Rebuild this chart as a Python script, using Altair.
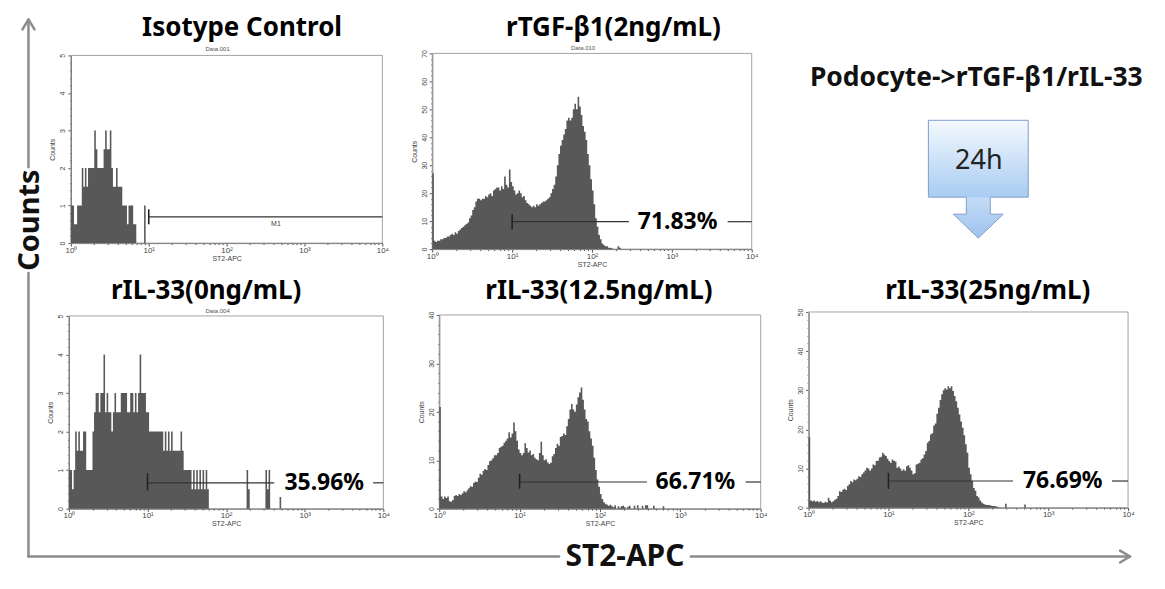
import altair as alt
import pandas as pd

# ---------------- values ----------------
BIN_STEP = 0.02  # width of one histogram channel in decades of ST2-APC, first channel at 10^0

ISO_COUNTS = [1, 1, 0.5, 0.5, 1, 1, 1, 2, 1.5, 2,
              1.5, 2, 2, 2, 2, 3, 2.5, 2, 2, 2,
              2, 2.5, 3, 2.5, 2.5, 3, 2, 1.5, 1.5, 2,
              1.5, 1.5, 1.5, 1, 1, 1, 0.5, 1, 1, 1,
              0.5, 0.5, 0, 0, 0, 0, 0, 1]

TGF_COUNTS = [27, 3, 2.5, 3, 3, 3.5, 3.5, 4, 4, 4.5,
              4.5, 5, 5.5, 5, 6, 5.5, 6.5, 7, 7.5, 8,
              8.5, 9, 9.5, 11, 12, 14, 15, 17, 18, 18,
              17.5, 18, 18, 19, 18.5, 19.5, 20, 19, 21, 21.5,
              22, 22, 21, 22.5, 21.5, 26, 23, 22, 28.5, 24,
              22.5, 21, 19.5, 20, 21, 20, 18.5, 19, 17.5, 16.5,
              16, 15.5, 15, 15.5, 15, 16, 15.5, 16, 16.5, 17,
              17, 17.5, 18, 18.5, 20, 21.5, 23, 26, 30, 34,
              37, 39, 41, 43, 46, 47, 46, 47, 50, 52,
              50, 54.5, 51, 48, 44, 42, 39, 34, 30, 25,
              21, 16, 11, 8, 5, 3.5, 2, 1.5, 1, 1,
              0.5, 0.5, 0.3, 0, 0, 0, 1, 0.5]

IL0_COUNTS = [1, 1, 0.5, 1, 2, 1.5, 2, 1.5, 1.5, 2,
              2, 1, 1, 1, 1, 2, 2.5, 3, 3, 2.5,
              3, 3, 4, 2.5, 3, 2.5, 2.5, 2, 2.5, 3,
              2.5, 2.5, 2.5, 3, 3, 3, 3, 2.5, 2.5, 3,
              3, 2.5, 3, 2.5, 3, 4, 3, 3, 3, 2.5,
              2.5, 2, 2, 2, 2, 2, 2, 2, 2, 2,
              1.5, 2, 1.5, 2, 1.5, 2, 1.5, 1.5, 1.5, 1.5,
              1.5, 2, 1.5, 1, 1, 1, 1, 1, 0.5, 1,
              0.5, 1, 0.5, 1, 0.5, 1, 0.5, 1, 0.5, 0,
              0, 0, 0, 0, 0, 0, 0, 0, 0, 0,
              0, 0, 0, 0, 0, 0, 0, 0, 0, 0,
              0, 0, 0, 1, 0.5, 0, 0, 0, 0, 0,
              0, 0, 0, 0, 0, 1, 0.5, 1, 0, 0,
              0, 0, 0, 0, 0.3]

IL125_COUNTS = [21, 2.5, 2, 2.5, 2.2, 2.5, 1.5, 1.4, 1.8, 2.6,
                2.8, 2.6, 3, 2.8, 3.2, 3.6, 3.4, 3.8, 4.2, 4.6,
                4.5, 5.3, 5.6, 5.5, 6.4, 7.2, 7, 7.8, 8.2, 8,
                9, 9.8, 10, 10.4, 11, 11, 11.5, 12.5, 12.8, 13,
                13.6, 14, 14.5, 15.8, 14.7, 15.5, 17.8, 16, 14, 12.2,
                11.5, 11, 11.5, 13.5, 12.5, 11.6, 12, 11, 11.3, 10.5,
                10.2, 10, 11.5, 13.8, 11, 10, 10.2, 9.6, 9.2, 9.5,
                10.8, 11.3, 12.5, 13.4, 13, 14.8, 15, 15.5, 15.2, 17,
                18.5, 20.5, 21.6, 20.5, 20, 21.5, 23, 24, 25, 22.5,
                20.5, 18.5, 18, 16, 14.5, 13, 10.5, 8, 6, 4.5,
                3, 2, 1.3, 1, 0.8, 0.6, 0.8, 0.5, 0.3, 0.7,
                0, 0.5, 0.2, 0.5, 0.6, 0.3, 0, 0.4, 0.6, 0,
                0, 0.6, 0, 0.7, 0, 0, 0.6, 0, 0.7, 0.7,
                0, 0, 0, 0.6, 0, 0, 0, 0, 0, 0.5]

IL25_COUNTS = [18, 1.8, 1.6, 1.8, 1.5, 1.7, 1.4, 1.6, 1.3, 1.2,
               1.5, 1.3, 2.5, 1.8, 1.4, 1.6, 2, 2.3, 3, 4.2,
               4, 4.6, 4.8, 4.5, 5.5, 6, 6.8, 6.5, 7.2, 7,
               7.4, 8, 7.8, 8.5, 9, 9.5, 10.2, 10, 9.4, 10,
               11, 10.8, 11.9, 12, 12.8, 13, 14, 13.5, 13.2, 12.5,
               11.9, 11.5, 12.3, 12, 11.8, 10.2, 10.5, 10, 9.4, 9.8,
               9.4, 10.6, 10.8, 10.2, 9.5, 8.5, 8.8, 11, 11.2, 11.5,
               12.3, 12.6, 13.6, 14.5, 16.6, 17, 18.7, 19, 21, 21.5,
               24, 25.5, 27.5, 29, 30, 30.5, 30.2, 31, 30.5, 31,
               29.8, 28.5, 27.2, 25.5, 23.8, 22, 20.4, 18.5, 16.2, 14,
               10.2, 8.5, 6.8, 5, 4.3, 3, 2.6, 1.8, 1.3, 1,
               0.8, 0.7, 0.7, 0.6, 0.5, 0.4, 0.4, 0.3, 0.2, 0,
               0, 0, 0, 1, 0, 0, 0, 0, 0, 0,
               0, 0, 0, 0, 0, 0.8]

COUNTS = [ISO_COUNTS, TGF_COUNTS, IL0_COUNTS, IL125_COUNTS, IL25_COUNTS]
PANEL_TITLES = ["Isotype Control", "rTGF-β1(2ng/mL)", "rIL-33(0ng/mL)",
                "rIL-33(12.5ng/mL)", "rIL-33(25ng/mL)"]
FILE_LABELS = ["Data.001", "Data.010", "Data.004", "", ""]
Y_MAX = [5, 70, 5, 40, 50]
Y_MAJOR = [1, 10, 1, 10, 10]
Y_MINOR = [0.2, 2, 0.2, 2, 2]
GATE_LABELS = ["M1", "71.83%", "35.96%", "66.71%", "76.69%"]
GATE_LEVEL = [0.7, 9.8, 0.67, 5.5, 6.8]
GATE_TICK_LOW = [0.5, 7.0, 0.47, 4.1, 4.8]
GATE_TICK_HIGH = [0.9, 12.5, 0.92, 7.2, 8.9]
GATE_START = 10
GATE_END = 10000
GATE_LABEL_X = [430, 1180, 1770, 1540, 1520]
GATE_LABEL_Y = [0.5, 9.8, 0.67, 5.5, 6.8]
GATE_GAP_FROM = [None, 290, 410, 385, 363]
GATE_GAP_TO = [None, 5000, 7400, 6500, 6300]
X_TICKS = [m * 10 ** k for k in range(4) for m in range(1, 10)] + [10000]

SIDE_Y_TITLE = "Counts"
SIDE_X_TITLE = "ST2-APC"
SCHEME_TITLE = "Podocyte->rTGF-β1/rIL-33"
SCHEME_TIME = "24h"

# ---------------- layout (page pixels) ----------------
COL_LEFT = [67, 431, 809]
ROW_TOP = [52, 311]
CW = [316, 330, 320]
RH = [196, 198]
SP_COL = COL_LEFT[1] - COL_LEFT[0] - CW[0]
SP_ROW = ROW_TOP[1] - ROW_TOP[0] - RH[0]
CELL = [(0, 0), (0, 1), (1, 0), (1, 1), (1, 2)]          # (row, col) of each histogram panel
PLOT_RECT = [(70, 54, 312, 188), (432, 52, 320, 196), (68, 315, 315, 193),
             (439, 314, 322, 194), (809, 311, 320, 196)]   # page x, y, width, height
TITLE_POS = [(241.5, 34.5), (613.5, 35), (205.5, 298), (599, 298), (988.5, 298)]
FILE_POS = [(217, 51), (583, 50), (217, 313)]

HIST_COLOR = "#585858"
AXIS_FONT = "Liberation Sans"
MAIN_FONT = "Noto Sans"

DECADE_TEST = "abs(log(datum.value)/LN10 - round(log(datum.value)/LN10)) < 0.001"
X_LABEL_EXPR = ("datum.value == 1 ? '10⁰' : datum.value == 10 ? '10¹' : "
                "datum.value == 100 ? '10²' : datum.value == 1000 ? '10³' : "
                "datum.value == 10000 ? '10⁴' : ''")


def x_axis(offset):
    return alt.Axis(values=X_TICKS, labelExpr=X_LABEL_EXPR, labelOverlap=False, labelFlush=False,
                    tickSize={"condition": {"test": DECADE_TEST, "value": 3}, "value": 1.5},
                    labelFontSize=8, labelFont=AXIS_FONT, labelColor="#444", labelPadding=0,
                    title="ST2-APC", titleFontSize=7, titleFont=AXIS_FONT, titleFontWeight="normal",
                    titleColor="#444", titlePadding=0, domainColor="#555", tickColor="#555",
                    grid=False, offset=offset)


def y_axis(k, offset):
    M = Y_MAJOR[k]
    n = int(round(Y_MAX[k] / Y_MINOR[k]))
    vals = [round(j * Y_MINOR[k], 2) for j in range(n + 1)]
    return alt.Axis(values=vals, labelOverlap=False,
                    labelExpr=f"datum.value % {M} == 0 ? format(datum.value, 'd') : ''",
                    tickSize={"condition": {"test": f"datum.value % {M} == 0", "value": 3}, "value": 1.5},
                    labelAngle=270, labelFontSize=7, labelFont=AXIS_FONT, labelColor="#444",
                    labelPadding=2, title="Counts", titleFontSize=7, titleFont=AXIS_FONT,
                    titleFontWeight="normal", titleColor="#444", titlePadding=3,
                    domainColor="#555", tickColor="#555", grid=False, offset=offset)


def one(text):
    return pd.DataFrame({"t": [text]})


def make_panel(k):
    r, c = CELL[k]
    ox, oy = COL_LEFT[c], ROW_TOP[r]
    px, py, pw, ph = PLOT_RECT[k]
    dx, dy = px - ox, py - oy
    counts = COUNTS[k]
    n = len(counts)
    hist = pd.DataFrame({"x": [10 ** (i * BIN_STEP) for i in range(n + 1)],
                         "c": list(counts) + [0]})
    xenc = alt.X("x:Q", scale=alt.Scale(type="log", domain=[1, 10000], nice=False, range=[dx, dx + pw]),
                 axis=x_axis(dy + ph - RH[r]))
    yenc = alt.Y("c:Q", scale=alt.Scale(domain=[0, Y_MAX[k]], nice=False, zero=True, range=[dy + ph, dy]),
                 axis=y_axis(k, -dx))

    frame = alt.Chart(pd.DataFrame({"x": [1], "x2": [10000], "c": [0], "c2": [Y_MAX[k]]})).mark_rect(
        fillOpacity=0, stroke="#a3a3a3", strokeWidth=1).encode(x=xenc, x2="x2:Q", y=yenc, y2="c2:Q")
    area = alt.Chart(hist).mark_area(interpolate="step-after", color=HIST_COLOR).encode(x=xenc, y=yenc)

    if GATE_GAP_FROM[k] is None:
        seg = pd.DataFrame({"x": [GATE_START], "x2": [GATE_END], "c": [GATE_LEVEL[k]]})
    else:
        seg = pd.DataFrame({"x": [GATE_START, GATE_GAP_TO[k]], "x2": [GATE_GAP_FROM[k], GATE_END],
                            "c": [GATE_LEVEL[k]] * 2})
    rule = alt.Chart(seg).mark_rule(color="#333", strokeWidth=1.2).encode(x=xenc, x2="x2:Q", y=yenc)
    tick = alt.Chart(pd.DataFrame({"x": [GATE_START], "c": [GATE_TICK_LOW[k]], "c2": [GATE_TICK_HIGH[k]]})
                     ).mark_rule(color="#222", strokeWidth=1.6).encode(x=xenc, y=yenc, y2="c2:Q")
    lab_df = pd.DataFrame({"x": [GATE_LABEL_X[k]], "c": [GATE_LABEL_Y[k]], "t": [GATE_LABELS[k]]})
    if k == 0:
        lab = alt.Chart(lab_df).mark_text(fontSize=7, font=AXIS_FONT, color="#444", baseline="middle")
    else:
        lab = alt.Chart(lab_df).mark_text(fontSize=23, font=MAIN_FONT, fontWeight="bold",
                                          color="#000", baseline="middle")
    lab = lab.encode(x=xenc, y=yenc, text="t:N")

    tx, ty = TITLE_POS[k]
    title = alt.Chart(one(PANEL_TITLES[k])).mark_text(
        fontSize=26, font=MAIN_FONT, fontWeight="bold", color="#000", baseline="alphabetic"
    ).encode(text="t:N", x=alt.value(tx - ox), y=alt.value(ty - oy))
    layers = [frame, area, rule, tick, lab, title]
    if FILE_LABELS[k]:
        fx, fy = FILE_POS[k]
        layers.append(alt.Chart(one(FILE_LABELS[k])).mark_text(
            fontSize=6, font=AXIS_FONT, color="#555", baseline="bottom"
        ).encode(text="t:N", x=alt.value(fx - ox), y=alt.value(fy - oy)))
    return alt.layer(*layers).properties(
        width=CW[c], height=RH[r], view=alt.ViewBackground(stroke="transparent"))


# ---------------- scheme / outer axes cell ----------------
dx, dy = COL_LEFT[2], ROW_TOP[0]
SEGS = [(27.5, 19, 27.5, 166), (27.5, 272, 27.5, 556),
        (27.5, 18, 21.5, 28), (27.5, 18, 33.5, 28),
        (27.5, 556, 559, 556), (691, 556, 1130, 556),
        (1131, 556, 1121, 550), (1131, 556, 1121, 562)]
seg_df = pd.DataFrame({"x": [s[0] - dx for s in SEGS], "y": [s[1] - dy for s in SEGS],
                       "x2": [s[2] - dx for s in SEGS], "y2": [s[3] - dy for s in SEGS]})

frame_all = alt.Chart(one("")).mark_rect(opacity=0).encode(
    x=alt.value(8 - dx), x2=alt.value(1157 - dx), y=alt.value(8 - dy), y2=alt.value(581 - dy))
arrows = alt.Chart(seg_df).mark_rule(color="#8c8c8c", strokeWidth=2.5, strokeCap="round").encode(
    x=alt.X("x:Q", scale=None, axis=None), y=alt.Y("y:Q", scale=None, axis=None),
    x2="x2:Q", y2="y2:Q")
counts_txt = alt.Chart(one(SIDE_Y_TITLE)).mark_text(
    angle=270, fontSize=29, font=MAIN_FONT, fontWeight="bold", color="#111",
    align="center", baseline="middle").encode(text="t:N", x=alt.value(29 - dx), y=alt.value(219 - dy))
st2_txt = alt.Chart(one(SIDE_X_TITLE)).mark_text(
    fontSize=30, font=MAIN_FONT, fontWeight="bold", color="#111",
    align="center", baseline="middle").encode(text="t:N", x=alt.value(625 - dx), y=alt.value(556 - dy))
scheme_txt = alt.Chart(one(SCHEME_TITLE)).mark_text(
    fontSize=26.5, font=MAIN_FONT, fontWeight="bold", color="#111",
    align="center", baseline="alphabetic").encode(text="t:N", x=alt.value(977 - dx), y=alt.value(85 - dy))
ARROW_PATH = ("M -50 -59 L 50 -59 L 50 18 L 12 18 L 12 35 L 25 35 L 0 59 "
              "L -25 35 L -12 35 L -12 18 L -50 18 Z")
arrow_grad = alt.Gradient(gradient="linear", x1=0, y1=0, x2=0, y2=1, stops=[
    alt.GradientStop(offset=0, color="#f4f9fe"),
    alt.GradientStop(offset=0.65, color="#a9ccf1"),
    alt.GradientStop(offset=0.66, color="#c3dbf6"),
    alt.GradientStop(offset=1, color="#9ec3ee")])
arrow_box = alt.Chart(one("")).mark_point(
    shape=ARROW_PATH, size=4, filled=True, fill=arrow_grad, stroke="#7f9ecb", strokeWidth=1, opacity=1
).encode(x=alt.value(979 - dx), y=alt.value(178 - dy))
time_txt = alt.Chart(one(SCHEME_TIME)).mark_text(
    fontSize=27, font=MAIN_FONT, color="#222", align="center", baseline="alphabetic"
).encode(text="t:N", x=alt.value(979.5 - dx), y=alt.value(168 - dy))

diag = alt.layer(frame_all, arrows, counts_txt, st2_txt, scheme_txt, arrow_box, time_txt).properties(
    width=CW[2], height=RH[0], view=alt.ViewBackground(stroke="transparent"))

p = [make_panel(k) for k in range(5)]
chart = alt.concat(p[0], p[1], diag, p[2], p[3], p[4], columns=3,
                   spacing={"row": SP_ROW, "column": SP_COL}, bounds="flush"
                   ).properties(padding=0).configure(background="white")

chart.save("out.html", embed_options={"renderer": "svg", "actions": False})
